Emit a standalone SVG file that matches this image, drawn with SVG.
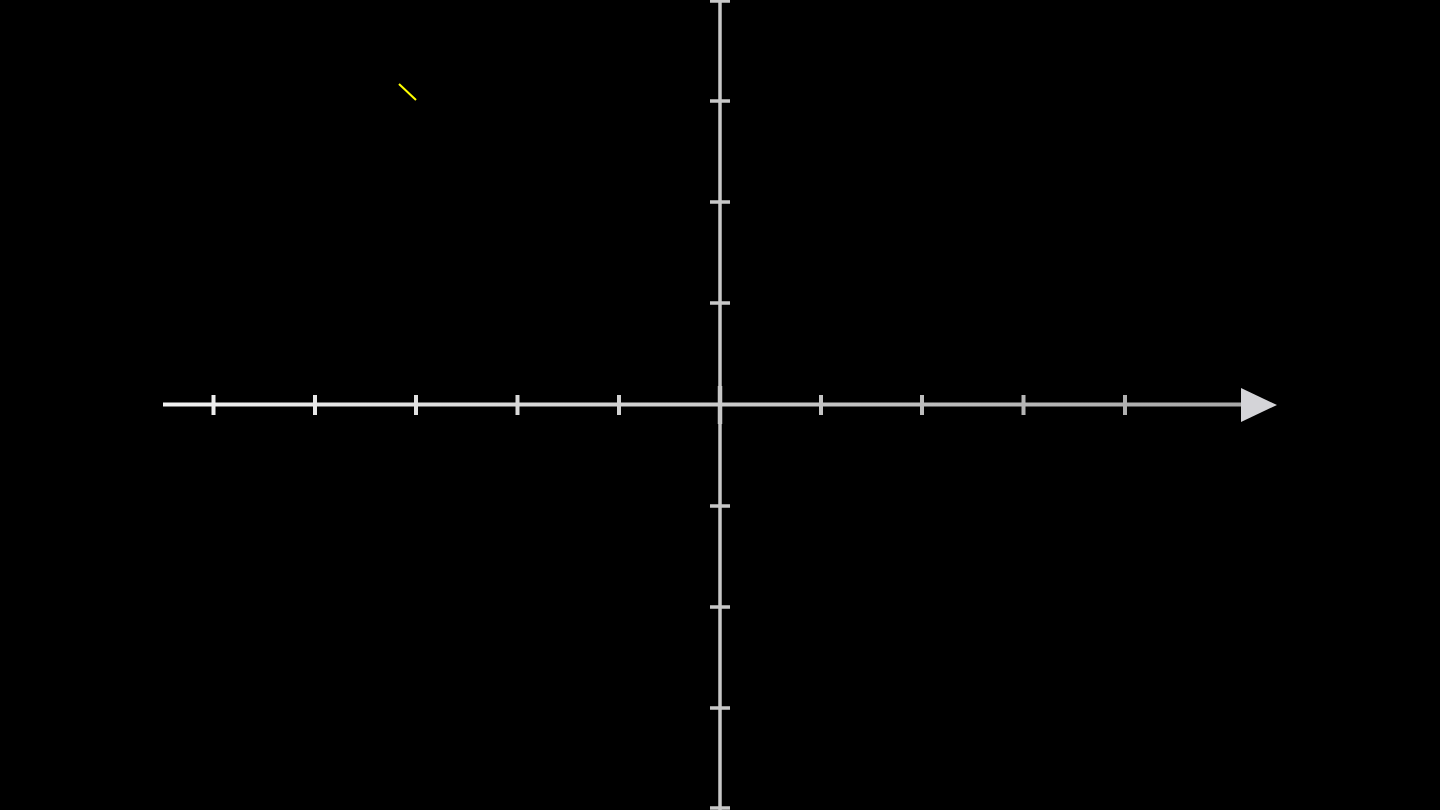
<svg xmlns="http://www.w3.org/2000/svg" width="1440" height="810" viewBox="0 0 1440 810">
  <defs>
    <linearGradient id="gx" gradientUnits="userSpaceOnUse" x1="163" y1="0" x2="1241" y2="0">
      <stop offset="0" stop-color="#f2f2f2"/>
      <stop offset="0.5" stop-color="#cccccc"/>
      <stop offset="1" stop-color="#a8a8a8"/>
    </linearGradient>
  </defs>
  <style>
    .xa { stroke: url(#gx); stroke-width: 4; fill: none; }
    .ya { stroke: #c8c8c8; stroke-width: 3.5; fill: none; }
  </style>
  <rect width="1440" height="810" fill="#000"/>
  <g id="y-axis">
    <line class="ya" x1="720" y1="0" x2="720" y2="810"/>
    <line x1="720" y1="386" x2="720" y2="424" stroke="#c8c8c8" stroke-width="4.5"/>
    <path class="ya" d="M710 1H730M710 101H730M710 202H730M710 303H730M710 506H730M710 607H730M710 708H730M710 808H730"/>
  </g>
  <g id="x-axis">
    <line class="xa" x1="163" y1="404.5" x2="1245" y2="404.5"/>
    <path class="xa" d="M213.5 395V415M315 395V415M416 395V415M517.5 395V415M619 395V415M821 395V415M922 395V415M1023.5 395V415M1125 395V415"/>
    <polygon points="1241,388 1277,405 1241,422" fill="#d4d4d8"/>
  </g>
  <g id="mark">
    <line x1="399" y1="84" x2="416" y2="100" stroke="#ffff00" stroke-width="2"/>
  </g>
</svg>
